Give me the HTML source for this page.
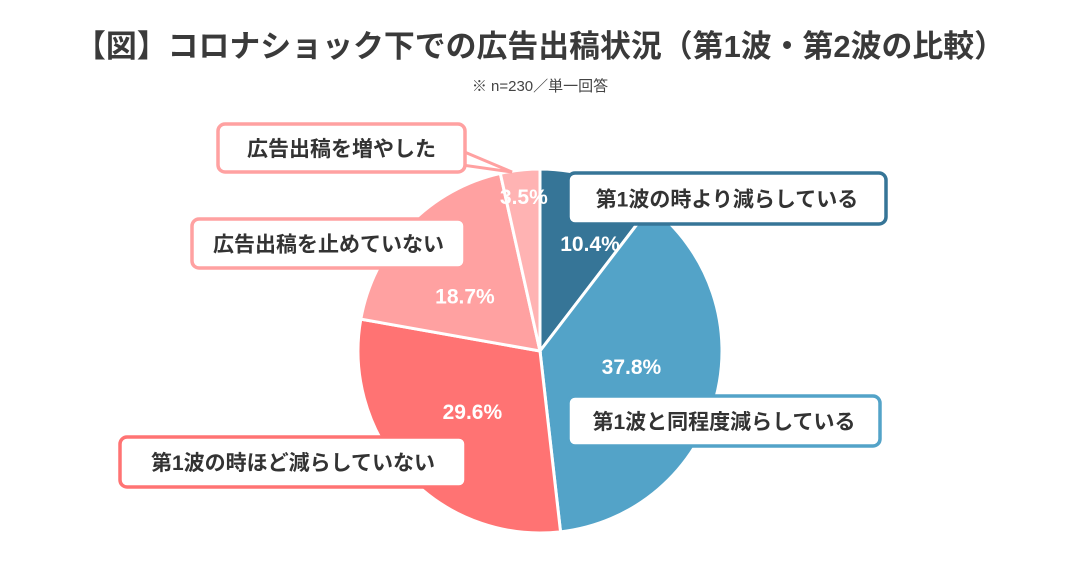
<!DOCTYPE html>
<html><head><meta charset="utf-8"><style>
body{margin:0;width:1080px;height:566px;background:#fff;overflow:hidden;font-family:"Liberation Sans","Noto Sans CJK JP",sans-serif;}
</style></head><body>
<svg id="chart" width="1080" height="566" xmlns="http://www.w3.org/2000/svg" style="font-family:'Liberation Sans','Noto Sans CJK JP',sans-serif">
<text x="540" y="57" text-anchor="middle" font-size="31" font-weight="bold" fill="#3a3a3a" textLength="930" lengthAdjust="spacingAndGlyphs">【図】コロナショック下での広告出稿状況（第1波・第2波の比較）</text>
<text x="540" y="91" text-anchor="middle" font-size="15" fill="#444">※ n=230／単一回答</text>
<g id="slices"></g>
<g id="labels"></g>
</svg>
<script>
const categories=["第1波の時より減らしている","第1波と同程度減らしている","第1波の時ほど減らしていない","広告出稿を止めていない","広告出稿を増やした"];
const values=[10.4,37.8,29.6,18.7,3.5];
const valueLabels=["10.4%","37.8%","29.6%","18.7%","3.5%"];
const colors=["#367597","#53a3c8","#ff7373","#ffa1a1","#ffb3b3"];
const borders=["#367597","#53a3c8","#ff7373","#ffa1a1","#ffa1a1"];
const cx=540,cy=351,R=182;
const NS="http://www.w3.org/2000/svg";
const total=values.reduce((a,b)=>a+b,0);
const gS=document.getElementById('slices'),gL=document.getElementById('labels');
function pt(a,r){return [cx+r*Math.sin(a),cy-r*Math.cos(a)];}
let acc=0;
const pctRadius=[0.65,0.51,0.5,0.51,0.85];
const pctAngleOffset=[6.3,-5.6,1.2,-7.7,0.3];
values.forEach((v,i)=>{
 const a0=acc/total*2*Math.PI;acc+=v;const a1=acc/total*2*Math.PI;
 const p0=pt(a0,R),p1=pt(a1,R);
 const path=document.createElementNS(NS,'path');
 path.setAttribute('d',`M${cx},${cy}L${p0[0]},${p0[1]}A${R},${R} 0 ${a1-a0>Math.PI?1:0} 1 ${p1[0]},${p1[1]}Z`);
 path.setAttribute('fill',colors[i]);path.setAttribute('stroke','#fff');path.setAttribute('stroke-width','3');
 
 
 gS.appendChild(path);
 const am=(a0+a1)/2+pctAngleOffset[i]*Math.PI/180,lp=pt(am,R*pctRadius[i]);
 const t=document.createElementNS(NS,'text');
 t.setAttribute('x',lp[0]);t.setAttribute('y',lp[1]+7);t.setAttribute('text-anchor','middle');
 t.setAttribute('font-size','21');t.setAttribute('font-weight','bold');t.setAttribute('fill','#fff');
 t.textContent=valueLabels[i];
 
 
 gS.appendChild(t);
});
const boxes=[[568,173,318,51],[568,396,312,50],[120,437,346,50],[192,219,273,49],[218,124,247,48]];
boxes.forEach((b,i)=>{
 if(i===4){const tri=document.createElementNS(NS,'polygon');
  tri.setAttribute('points',`455,148 512,172 455,164`);tri.setAttribute('fill','#fff');tri.setAttribute('stroke',borders[i]);tri.setAttribute('stroke-width','3');
  
  
  gL.appendChild(tri);}
 const r=document.createElementNS(NS,'rect');
 r.setAttribute('x',b[0]);r.setAttribute('y',b[1]);r.setAttribute('width',b[2]);r.setAttribute('height',b[3]);
 r.setAttribute('rx','7');r.setAttribute('fill','#fff');r.setAttribute('stroke',borders[i]);r.setAttribute('stroke-width','3.5');
 
 
 gL.appendChild(r);
 const t=document.createElementNS(NS,'text');
 t.setAttribute('x',b[0]+b[2]/2);t.setAttribute('y',b[1]+b[3]/2+8);t.setAttribute('text-anchor','middle');
 t.setAttribute('font-size','21');t.setAttribute('font-weight','bold');t.setAttribute('fill','#333');
 t.textContent=categories[i];
 
 
 gL.appendChild(t);
});
</script>
</body></html>
